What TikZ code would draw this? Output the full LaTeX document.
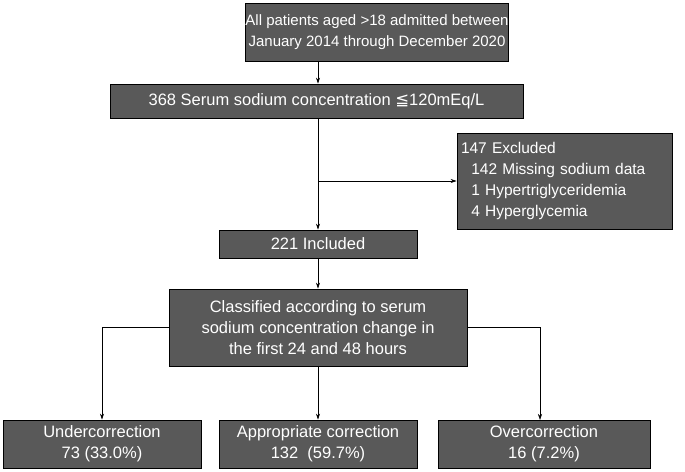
\documentclass[tikz,border=0pt]{standalone}
\usepackage{fontspec}
\setmainfont{Liberation Sans}
\newfontfamily\dv{DejaVu Sans}
\usetikzlibrary{arrows.meta}
\definecolor{boxgray}{HTML}{595959}
\begin{document}
\begin{tikzpicture}[x=1pt,y=-1pt,
  bx/.style={draw=black,line width=0.8pt,fill=boxgray,text=white,inner sep=0pt,font=\fontsize{16.5}{21}\selectfont,align=center},
  arr/.style={-{Stealth[length=6pt,width=4pt]},line width=0.6pt}]
\useasboundingbox (0,0) rectangle (685,471);
\node[bx,minimum width=248pt,minimum height=58pt,font=\fontsize{15}{21}\selectfont] (a) at (377,32) {All patients aged >18 admitted between\\January 2014 through December 2020};
\node[bx,minimum width=413pt,minimum height=34pt] (b) at (316.5,101) {368 Serum sodium concentration {\dv ≦}120mEq/L};
\node[bx,minimum width=215pt,minimum height=96pt,align=left,text width=207pt,inner xsep=4pt,font=\fontsize{15.5}{21}\selectfont] (e) at (564.5,181) {147 Excluded\\\ \ 142 Missing sodium data\\\ \ 1 Hypertriglyceridemia\\\ \ 4 Hyperglycemia};
\node[bx,minimum width=198pt,minimum height=28pt] (c) at (318,244) {221 Included};
\node[bx,minimum width=298pt,minimum height=77pt] (d) at (318,327.5) {Classified according to serum\\sodium concentration change in\\the first 24 and 48 hours};
\node[bx,minimum width=198pt,minimum height=48pt] (f) at (102,444) {Undercorrection\\73 (33.0\%)};
\node[bx,minimum width=198pt,minimum height=48pt] (g) at (318,444) {Appropriate correction\\132\ \ (59.7\%)};
\node[bx,minimum width=212pt,minimum height=48pt] (h) at (544,444) {Overcorrection\\16 (7.2\%)};
\draw[arr] (a.south -| c.north) -- (b.north -| c.north);
\draw[arr] (b.south -| c.north) -- (c.north);
\coordinate (j) at (318,181);
\draw[arr] (j) -- (e.west |- j);
\draw[arr] (c.south) -- (d.north);
\draw[arr] (d.south) -- (g.north);
\draw[arr] (d.west) -| (f.north);
\draw[arr] (d.east) -| (540,420);
\end{tikzpicture}
\end{document}
